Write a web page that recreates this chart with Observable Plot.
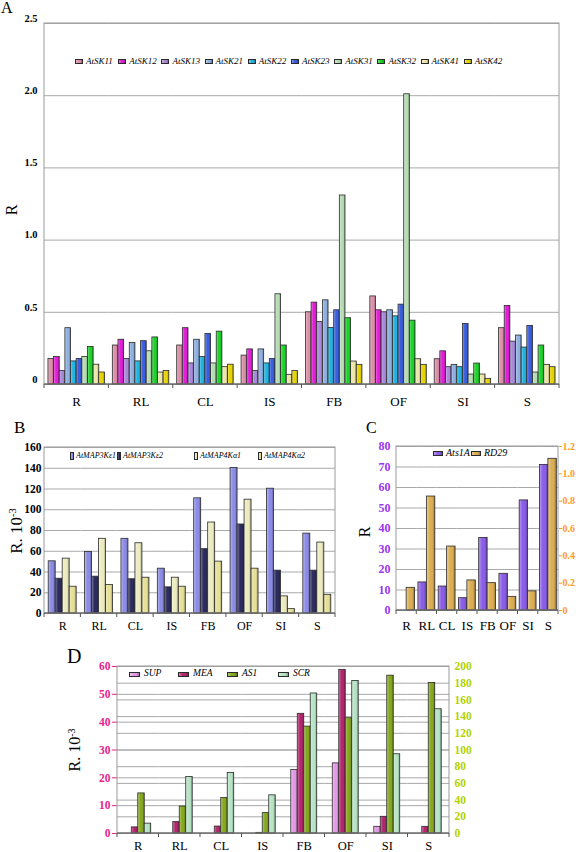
<!DOCTYPE html>
<html><head><meta charset="utf-8">
<script src="https://cdn.jsdelivr.net/npm/d3@7"></script>
<script src="https://cdn.jsdelivr.net/npm/@observablehq/plot@0.6"></script>
<style>
body{margin:0;background:#fff;}
#fig{position:relative;width:576px;height:852px;overflow:hidden;background:#fff;font-family:"Liberation Serif","Times New Roman",serif;color:#000;}
#fig svg{position:absolute;}
.txt{position:absolute;line-height:1;white-space:nowrap;}
.ytitle{position:absolute;line-height:1;white-space:nowrap;transform:translate(-50%,-50%) rotate(-90deg);}
.ytitle sup{font-size:0.62em;vertical-align:0.55em;line-height:0;}
.leg{position:absolute;display:flex;align-items:center;font-style:italic;line-height:1;white-space:nowrap;}
.leg .sw{display:inline-block;border:1px solid #2a2a2a;box-sizing:border-box;}
</style>
</head><body><div id="fig"></div>
<script>
// ---------- shared categories ----------
const tissues = ["R","RL","CL","IS","FB","OF","SI","S"];

// ---------- Panel A ----------
const seriesA = ["AtSK11","AtSK12","AtSK13","AtSK21","AtSK22","AtSK23","AtSK31","AtSK32","AtSK41","AtSK42"];
const colorsA = ["#dc8fa8","#e21ed8","#a88ad8","#8eb0e0","#22b4e0","#3a5ede","#b6dcb4","#1ed42a","#ece6a8","#e6d400"];
const AtSK11 = [0.176,0.27,0.27,0.20,0.50,0.61,0.175,0.39];
const AtSK12 = [0.19,0.31,0.39,0.243,0.567,0.514,0.23,0.544];
const AtSK13 = [0.093,0.176,0.146,0.093,0.433,0.50,0.12,0.297];
const AtSK21 = [0.39,0.287,0.31,0.243,0.583,0.514,0.136,0.339];
const AtSK22 = [0.16,0.16,0.19,0.146,0.392,0.472,0.12,0.256];
const AtSK23 = [0.176,0.30,0.35,0.176,0.514,0.553,0.419,0.406];
const AtSK31 = [0.19,0.23,0.146,0.625,1.309,2.01,0.069,0.083];
const AtSK32 = [0.26,0.326,0.366,0.27,0.459,0.442,0.145,0.27];
const AtSK41 = [0.137,0.083,0.12,0.067,0.159,0.175,0.069,0.136];
const AtSK42 = [0.083,0.093,0.137,0.093,0.136,0.136,0.039,0.12];
const ticksA = [0,0.5,1,1.5,2,2.5];

// ---------- Panel B ----------
const seriesB = ["AtMAP3Kε1","AtMAP3Kε2","AtMAP4Kα1","AtMAP4Kα2"];
const colorsB = ["#8c8ce6","#2c2c5e","#ecebc0","#e6df98"];
const MAP3Ke1 = [50.3,59.4,72,43.2,111,140.3,120.3,77];
const MAP3Ke2 = [33.5,35.5,33,25.2,62,85.8,41.3,41.3];
const MAP4Ka1 = [52.9,72,67.7,34.5,87.7,109.7,16.5,68.4];
const MAP4Ka2 = [25.8,27.4,34.5,25.8,50,43.2,4.2,18];
const ticksB = [0,20,40,60,80,100,120,140,160];

// ---------- Panel C ----------
const seriesC = ["Ats1A","RD29"];
const colorsC = ["#8a5ee6","#dcae54"];
const Ats1A = [0,13.7,11.7,6.0,35.4,17.9,53.7,71];      // left axis
const RD29  = [0.166,0.834,0.468,0.22,0.20,0.10,0.14,1.11]; // right axis
const ticksCLeft = [0,10,20,30,40,50,60,70,80];
const ticksCRight = [0,0.2,0.4,0.6,0.8,1.0,1.2];

// ---------- Panel D ----------
const seriesD = ["SUP","MEA","AS1","SCR"];
const colorsD = ["#e39ae6","#b2266e","#86a820","#b6e4c4"];
const SUP = [0,0,0,0,22.8,25.2,2.4,0];          // left axis
const MEA = [2.2,4.1,2.5,0.24,43,58.8,6.0,2.4]; // left axis
const AS1 = [48,32.3,42.5,24.4,128,138,189,180.3];      // right axis
const SCR = [11.8,67.7,72.4,45.7,167.7,182.7,94.9,148.8]; // right axis
const ticksDLeft = [0,10,20,30,40,50,60];
const ticksDRight = [0,20,40,60,80,100,120,140,160,180,200];

// ---------- helpers ----------
const fig = document.getElementById("fig");
const FONT = "'Liberation Serif','Times New Roman',serif";

function rows(series, arrays, factors) {
  const out = [];
  series.forEach((s, j) => arrays[j].forEach((v, i) => {
    if (v > 0) out.push({tissue: tissues[i], series: s, value: v, y: v * factors[j]});
  }));
  return out;
}
function lighter(c, t){ return d3.interpolateRgb(c, "#fff")(t); }
function darker(c, t){ return d3.interpolateRgb(c, "#000")(t); }
function cssGrad(c){ return `linear-gradient(to right, ${lighter(c,0.4)} 0%, ${c} 40%, ${c} 70%, ${darker(c,0.3)} 100%)`; }

function panel(cfg) {
  const {key, series, colors, data, yMax, left, top, width, height, m, padOuter, grid, axes, fxSize, fxPad, fxWeight} = cfg;
  const urls = series.map((s, i) => `url(#g${key}${i})`);
  const chart = Plot.plot({
    width, height,
    marginTop: m[0], marginRight: m[1], marginBottom: m[2], marginLeft: m[3],
    style: {fontFamily: FONT, background: "transparent", color: "#000", overflow: "visible"},
    fx: {domain: tissues, padding: 0, round: false, axis: null, label: null},
    x: {domain: series, paddingInner: 0, paddingOuter: padOuter, round: false, axis: null},
    y: {domain: [0, yMax], axis: null},
    color: {domain: series, range: urls},
    marks: [
      Plot.gridY(grid, {stroke: "#a8a8a8", strokeOpacity: 1, strokeWidth: 1}),
      Plot.barY(data, {fx: "tissue", x: "series", y: "y", fill: "series", stroke: "#2a2a2a", strokeWidth: 0.8, inset: 0}),
      Plot.axisFx({anchor: "bottom", tickSize: 0, tickPadding: fxPad, fontSize: fxSize, fontWeight: fxWeight, label: null}),
      ...axes
    ]
  });
  const svg = d3.select(chart);
  const defs = svg.insert("defs", ":first-child");
  colors.forEach((c, i) => {
    const g = defs.append("linearGradient").attr("id", `g${key}${i}`).attr("x1", 0).attr("x2", 1).attr("y1", 0).attr("y2", 0);
    g.append("stop").attr("offset", "0%").attr("stop-color", lighter(c, 0.4));
    g.append("stop").attr("offset", "40%").attr("stop-color", c);
    g.append("stop").attr("offset", "70%").attr("stop-color", c);
    g.append("stop").attr("offset", "100%").attr("stop-color", darker(c, 0.3));
  });
  const x0 = m[3], x1 = width - m[1], y0 = m[0], y1 = height - m[2];
  svg.append("rect").attr("x", x0).attr("y", y0).attr("width", x1 - x0).attr("height", y1 - y0)
    .attr("fill", "none").attr("stroke", "#9a9a9a").attr("stroke-width", 1);
  svg.append("line").attr("x1", x0).attr("x2", x1).attr("y1", y1).attr("y2", y1).attr("stroke", "#555");
  for (let i = 0; i <= tissues.length; i++) {
    const x = x0 + i * (x1 - x0) / tissues.length;
    svg.append("line").attr("x1", x).attr("x2", x).attr("y1", y1).attr("y2", y1 + 4).attr("stroke", "#555");
  }
  chart.style.left = left + "px";
  chart.style.top = top + "px";
  chart.style.maxWidth = "none";
  fig.appendChild(chart);
}

function text(str, left, baseline, size, extra = "") {
  const d = document.createElement("div");
  d.className = "txt";
  d.style.cssText += `left:${left}px;top:${baseline - 0.8375 * size}px;font-size:${size}px;${extra}`;
  d.innerHTML = str;
  fig.appendChild(d);
}
function ytitle(html, cx, cy, size) {
  const d = document.createElement("div");
  d.className = "ytitle";
  d.style.cssText += `left:${cx}px;top:${cy}px;font-size:${size}px;`;
  d.innerHTML = html;
  fig.appendChild(d);
}
function legend(series, colors, xs, cy, size, sw, gap) {
  series.forEach((s, i) => {
    const d = document.createElement("div");
    d.className = "leg";
    d.style.cssText += `left:${xs[i]}px;top:${cy - 8}px;height:16px;font-size:${size}px;`;
    const b = document.createElement("span");
    b.className = "sw";
    b.style.cssText = `width:${sw[0]}px;height:${sw[1]}px;margin-right:${gap}px;background:${cssGrad(colors[i])};`;
    d.appendChild(b);
    const t = document.createElement("span");
    t.textContent = s;
    d.appendChild(t);
    fig.appendChild(d);
  });
}
const fmt1 = d => d === 0 ? "0" : d.toFixed(1);

// ---------- Panel A ----------
panel({
  key: "A", series: seriesA, colors: colorsA,
  data: rows(seriesA, [AtSK11,AtSK12,AtSK13,AtSK21,AtSK22,AtSK23,AtSK31,AtSK32,AtSK41,AtSK42], seriesA.map(() => 1)),
  yMax: 2.5, left: 0, top: 0, width: 576, height: 420, m: [23, 17, 36, 44], padOuter: 0.7,
  grid: ticksA, fxSize: 13, fxPad: 12, fxWeight: "normal",
  axes: [Plot.axisY(ticksA, {anchor: "left", tickSize: 0, tickPadding: 7, dy: -5, fontSize: 10.5, fontWeight: "bold", tickFormat: fmt1, label: null})]
});
text("A", 1, 13.3, 16);
ytitle("R", 12, 210, 16);
legend(seriesA, colorsA, seriesA.map((s, i) => 75 + i * 43.2), 61, 9, [8, 5], 3);

// ---------- Panel B ----------
panel({
  key: "B", series: seriesB, colors: colorsB,
  data: rows(seriesB, [MAP3Ke1, MAP3Ke2, MAP4Ka1, MAP4Ka2], [1, 1, 1, 1]),
  yMax: 160, left: 0, top: 430, width: 345, height: 215, m: [17, 10, 32, 44], padOuter: 0.6,
  grid: ticksB, fxSize: 12, fxPad: 8, fxWeight: "normal",
  axes: [Plot.axisY(ticksB, {anchor: "left", tickSize: 0, tickPadding: 3, fontSize: 11.5, fontWeight: "bold", label: null})]
});
text("B", 14, 433, 17);
ytitle("R. 10<sup>-3</sup>", 16, 531, 17);
legend(seriesB, colorsB, [70, 117, 194, 258], 456, 8, [4, 8], 2);

// ---------- Panel C ----------
const kC = 80 / 1.2;
panel({
  key: "C", series: seriesC, colors: colorsC,
  data: rows(seriesC, [Ats1A, RD29], [1, kC]),
  yMax: 80, left: 345, top: 430, width: 231, height: 205, m: [16, 18, 25, 51], padOuter: 0.2,
  grid: ticksCLeft, fxSize: 13, fxPad: 10, fxWeight: "normal",
  axes: [
    Plot.axisY(ticksCLeft, {anchor: "left", tickSize: 0, tickPadding: 6, fontSize: 12, fontWeight: "bold", color: "#9a35f0", label: null}),
    Plot.axisY(ticksCRight.map(d => d * kC), {anchor: "right", tickSize: 3, tickPadding: 1, fontSize: 10, fontWeight: "bold", color: "#ff9a1e", tickFormat: d => fmt1(Math.round(d / kC * 10) / 10), label: null})
  ]
});
text("C", 366, 433, 16);
ytitle("R", 365, 532, 16);
legend(seriesC, colorsC, [433, 471], 453, 10, [10, 5], 3);

// ---------- Panel D ----------
const kD = 60 / 200;
panel({
  key: "D", series: seriesD, colors: colorsD,
  data: rows(seriesD, [SUP, MEA, AS1, SCR], [1, 1, kD, kD]),
  yMax: 60, left: 0, top: 645, width: 576, height: 207, m: [21, 127, 19, 117], padOuter: 1.2,
  grid: [...ticksDLeft, ...ticksDRight.map(d => d * kD)], fxSize: 12.5, fxPad: 8, fxWeight: "normal",
  axes: [
    Plot.axisY(ticksDLeft, {anchor: "left", tickSize: 5, tickPadding: 2, fontSize: 11.5, fontWeight: "bold", color: "#e8228e", label: null}),
    Plot.axisY(ticksDRight.map(d => d * kD), {anchor: "right", tickSize: 0, tickPadding: 5, fontSize: 11.5, fontWeight: "bold", color: "#b4d200", tickFormat: d => String(Math.round(d / kD)), label: null})
  ]
});
text("D", 67, 663, 20);
ytitle("R. 10<sup>-3</sup>", 75, 750, 16);
legend(seriesD, colorsD, [129, 178, 227, 278], 674, 9.5, [11, 5], 4);
</script>
</body></html>
